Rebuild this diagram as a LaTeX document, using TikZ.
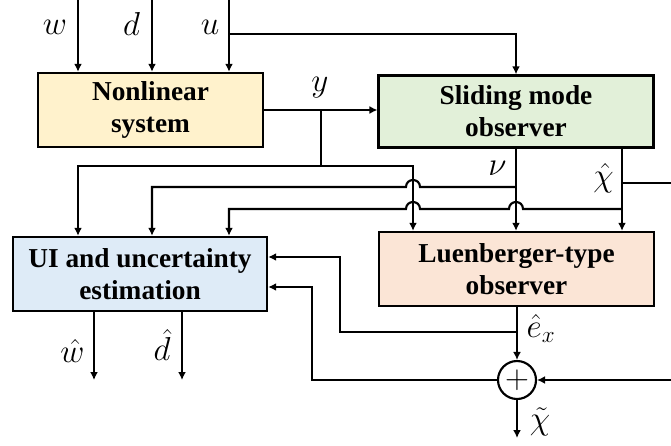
\documentclass[tikz,border=0pt]{standalone}
\usepackage{fontspec}
\setmainfont{Liberation Serif}
\usepackage{tikz}
\usetikzlibrary{shapes,arrows.meta}
\definecolor{sysfill}{HTML}{FFF2CC}
\definecolor{smofill}{HTML}{E2F0D9}
\definecolor{uifill}{HTML}{DEEBF7}
\definecolor{luefill}{HTML}{FBE5D6}
\tikzstyle{block} = [draw, line width=1.8pt, align=center, inner sep=0pt, minimum height=55.5pt, font=\fontsize{20.5}{24}\selectfont\bfseries]
\tikzstyle{wire} = [draw, line width=1.6pt]
\tikzstyle{arrow} = [draw, line width=1.6pt, -{Latex[length=6pt,width=6pt]}]
\tikzstyle{sig} = [inner sep=0pt, font=\fontsize{23}{27}\selectfont]

\begin{document}
\begin{tikzpicture}[x=0.75pt, y=-0.75pt]
\useasboundingbox (0,0) rectangle (671,446);

% blocks
\node[block, fill=sysfill, minimum width=168.75pt] at (150.5,110) (sys) {Nonlinear\\system};
\node[block, fill=smofill, minimum width=206pt, minimum height=54pt] at (516,111.5) (smo) {Sliding mode\\observer};
\node[block, fill=uifill, minimum width=190.5pt] at (140,274) (ui) {UI and uncertainty\\estimation};
\node[block, fill=luefill, minimum width=206pt] at (516.5,269) (lue) {Luenberger-type\\observer};
\node[draw, circle, line width=1.6pt, inner sep=0pt, minimum size=28.5pt, font=\fontsize{25}{28}\selectfont] at (517,380) (sum) {$+$};

% inputs w, d, u
\coordinate (win) at (78,0);
\coordinate (din) at (152,0);
\coordinate (uin) at (229,0);
\path[arrow] (win) -- (win |- sys.north);
\path[arrow] (din) -- (din |- sys.north);
\path[arrow] (uin) -- (uin |- sys.north);
\node[sig] at (55,27) (wlab) {$w$};
\node[sig] at (131.5,23.5) (dlab) {$d$};
\node[sig] at (210,27) (ulab) {$u$};
\coordinate (ubr) at (229,34);
\path[arrow] (ubr) -| (smo.north);

% output y
\path[arrow] (sys.east) -- (sys.east -| smo.west);
\node[sig] at (320,88) (ylab) {$y$};
\coordinate (ybr) at (321,110);
\coordinate (yrow) at (321,166);
\coordinate (ycol) at (413,166);
\path[arrow] (ybr) -- (yrow) -| (ui.north -| win);
\path[arrow] (yrow) -- (ycol) -- (ycol |- lue.north);

% nu
\path[arrow] (smo.south) -- (smo.south |- lue.north);
\node[sig] at (497.5,168) (nulab) {$\nu$};
\coordinate (nubr) at (516,187);
\path[arrow] (nubr) -- (420,187) .. controls (420,177.7) and (406,177.7) .. (406,187) -- (din |- nubr) -- (ui.north -| din);

% chi hat
\coordinate (chicol) at (622,0);
\path[arrow] (chicol |- smo.south) -- (chicol |- lue.north);
\node[sig] at (603.5,178.5) (chilab) {$\hat{\chi}$};
\coordinate (chibr) at (622,209);
\path[arrow] (chibr) -- (523,209) .. controls (523,199.7) and (509,199.7) .. (509,209) -- (420,209) .. controls (420,199.7) and (406,199.7) .. (406,209) -- (uin |- chibr) -- (ui.north -| uin);
\coordinate (chiright) at (671,183);
\path[wire] (chicol |- chiright) -- (chiright);

% e_x hat
\path[arrow] (lue.south -| sum) -- (sum.north);
\node[sig] at (541,328) (elab) {$\hat{e}_x$};
\coordinate (ebr) at (517,332);
\coordinate (eleft) at (340,332);
\coordinate (eup) at (340,257);
\path[arrow] (ebr) -- (eleft) -- (eup) -- (ui.east |- eup);

% sum
\coordinate (sback) at (312,380);
\coordinate (sup) at (312,287);
\path[arrow] (sum.west) -- (sback) -- (sup) -- (ui.east |- sup);
\coordinate (sumin) at (671,380);
\path[arrow] (sumin) -- (sum.east);
\coordinate (chitout) at (517,438);
\path[arrow] (sum.south) -- (chitout);
\node[sig] at (540,422) (chitlab) {$\tilde{\chi}$};

% estimates
\coordinate (wout) at (94,380);
\coordinate (dout) at (182,380);
\path[arrow] (ui.south -| wout) -- (wout);
\path[arrow] (ui.south -| dout) -- (dout);
\node[sig] at (72.5,351) (whlab) {$\hat{w}$};
\node[sig] at (162,345) (dhlab) {$\hat{d}$};
\end{tikzpicture}
\end{document}
